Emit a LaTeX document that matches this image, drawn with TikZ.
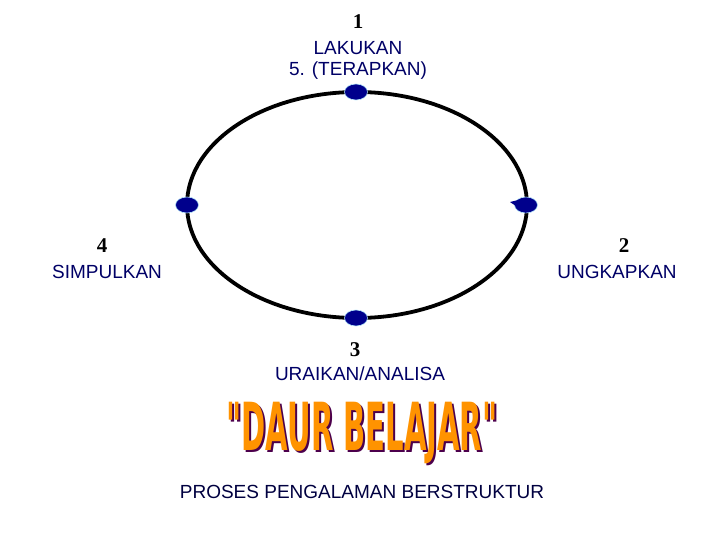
\documentclass[tikz,border=0pt]{standalone}
\usepackage{fontspec}
\usetikzlibrary{shapes.geometric}
\setmainfont{Liberation Sans}
\newfontfamily\numfont{Liberation Serif}
\newfontfamily\condfont{DejaVu Sans Condensed}
\newcommand{\dbtext}{\condfont\bfseries\scalebox{0.95}[1.95]{\fontsize{34}{34}\selectfont "DAUR BELAJAR"}}
\begin{document}
\begin{tikzpicture}[x=1pt,y=-1pt,
  lbl/.style={text=blue!40!black,font=\fontsize{19}{21}\selectfont,align=center,inner sep=0pt},
  num/.style={font=\numfont\bfseries\fontsize{21}{21}\selectfont,inner sep=0pt},
  dot/.style={ellipse,fill=blue!55!black,draw=cyan!30!white,line width=0.6pt,minimum width=23pt,minimum height=16pt,inner sep=0pt}]
\useasboundingbox (0,0) rectangle (720,540);
\draw[line width=3.8pt] (357,205) ellipse [x radius=170, y radius=113];
\node[dot] (d1) at (356,92) {};
\node[dot] (d4) at (187,205) {};
\node[dot] (d3) at (356,318) {};
\node[dot] (d2) at (526,205) {};
\fill[blue!55!black] (d2.center) ++(-16,-3) -- ++(12,-3) -- ++(4,14) -- cycle;
\node[num] (n1) at (358,22) {1};
\node[lbl] (l1) at (358,60) {LAKUKAN\\5. (TERAPKAN)};
\node[num] (n4) at (102,246) {4};
\node[lbl] (l4) at (107,272) {SIMPULKAN};
\node[num] (n2) at (624,246) {2};
\node[lbl] (l2) at (617,272) {UNGKAPKAN};
\node[num] (n3) at (355,350) {3};
\node[lbl] (l3) at (360,374) {URAIKAN/ANALISA};
\node[inner sep=0pt] (t) at (362,434) {\rlap{\hspace{2pt}\raisebox{-2pt}{\color{violet!60!black}\dbtext}}{\color{orange!85!yellow}\dbtext}};
\node[lbl,text=blue!25!black] (sub) at (362,492) {PROSES PENGALAMAN BERSTRUKTUR};
\end{tikzpicture}
\end{document}
